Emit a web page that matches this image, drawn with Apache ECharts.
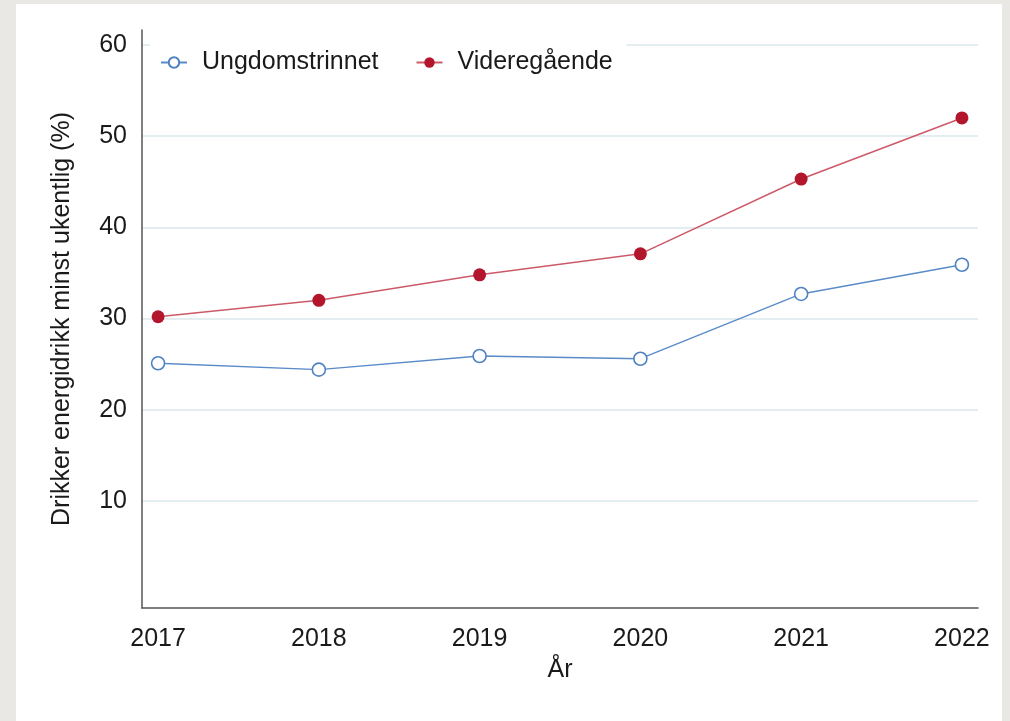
<!DOCTYPE html>
<html>
<head>
<meta charset="utf-8">
<script src="https://cdn.jsdelivr.net/npm/echarts@6/dist/echarts.min.js"></script>
<style>
  html, body { margin: 0; padding: 0; background: #e9e8e4; }
  #chart { position: absolute; left: 16px; top: 4px; width: 986px; height: 717px; background: #ffffff; }
</style>
</head>
<body>
<div id="chart"></div>
<script>
var years = [2017, 2018, 2019, 2020, 2021, 2022];
var ungdom = [25.1, 24.4, 25.9, 25.6, 32.7, 35.9];
var videregaende = [30.2, 32.0, 34.8, 37.1, 45.3, 52.0];
var yTicks = [10, 20, 30, 40, 50, 60];

var font = 'Liberation Sans';

function pairs(vals) {
    var out = [];
    years.map(function (y, i) { out.push([y, vals[i]]); });
    return out;
}

var chartDom = document.getElementById('chart');
var myChart = echarts.init(chartDom);
var option;

option = {
    animation: false,
    grid: { left: 126, right: 24, top: 26, bottom: 113 },
    legend: {
        left: 134,
        top: 38,
        padding: [8, 14, 8, 10],
        backgroundColor: '#ffffff',
        itemWidth: 26,
        itemHeight: 13,
        itemGap: 37,
        textStyle: { fontFamily: font, fontSize: 25, color: '#1a1a1a', padding: [0, 0, 0, 10] },
        data: ['Ungdomstrinnet', 'Videregående']
    },
    xAxis: {
        type: 'value',
        min: 2016.9,
        max: 2022.1,
        name: 'År',
        nameLocation: 'middle',
        nameGap: 50,
        nameTextStyle: { fontFamily: font, fontSize: 25, color: '#1a1a1a' },
        axisLine: { show: true, onZero: false, lineStyle: { color: '#555555', width: 1.5 } },
        axisTick: { show: false, customValues: years },
        axisLabel: {
            customValues: years,
            fontFamily: font, fontSize: 25, color: '#1a1a1a', margin: 19,
            formatter: function (v) { return String(v); }
        },
        splitLine: { show: false }
    },
    yAxis: {
        type: 'value',
        min: -1.73,
        max: 61.64,
        name: 'Drikker energidrikk minst ukentlig (%)',
        nameLocation: 'middle',
        nameGap: 67,
        nameTextStyle: { fontFamily: font, fontSize: 25, color: '#1a1a1a' },
        axisLine: { show: true, onZero: false, lineStyle: { color: '#555555', width: 1.5 } },
        axisTick: { show: false, customValues: yTicks },
        axisLabel: {
            customValues: yTicks,
            fontFamily: font, fontSize: 25, color: '#1a1a1a', margin: 15,
            padding: [3, 0, 0, 0]
        },
        splitLine: { show: true, lineStyle: { color: '#e4eef1', width: 2 } }
    },
    series: [
        {
            name: 'Ungdomstrinnet',
            type: 'line',
            data: pairs(ungdom),
            symbol: 'circle',
            symbolSize: 13,
            color: '#4f82c3',
            lineStyle: { color: '#5a8bc9', width: 1.4 },
            itemStyle: { color: '#ffffff', borderColor: '#4f82c3', borderWidth: 1.6 }
        },
        {
            name: 'Videregående',
            type: 'line',
            data: pairs(videregaende),
            symbol: 'circle',
            symbolSize: 13,
            color: '#b3152c',
            lineStyle: { color: '#cc5a69', width: 1.5 },
            itemStyle: { color: '#b3152c', borderColor: '#b3152c', borderWidth: 0 }
        }
    ]
};

option && myChart.setOption(option);
</script>
</body>
</html>
